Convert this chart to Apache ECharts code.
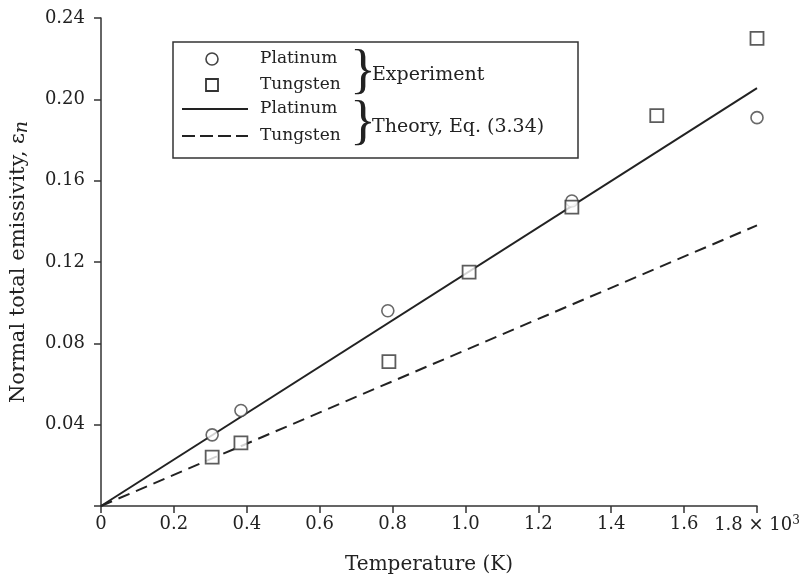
<!DOCTYPE html>
<html>
<head>
<meta charset="utf-8">
<script src="https://cdn.jsdelivr.net/npm/echarts@6/dist/echarts.min.js"></script>
<style>
  html, body { margin: 0; padding: 0; background: #fff; }
  #chart { width: 801px; height: 581px; }
</style>
</head>
<body>
<div id="chart"></div>
<script>
// temperature in 10^3 K, emissivity
const platinumExp = [[0.305, 0.035], [0.384, 0.047], [0.787, 0.096], [1.292, 0.150], [1.8, 0.191]]
const tungstenExp = [[0.305, 0.024], [0.384, 0.031], [0.79, 0.071], [1.01, 0.115], [1.292, 0.147], [1.525, 0.192], [1.8, 0.230]]
const platinumTheory = [[0, 0], [1.8, 0.2055]]
const tungstenTheory = [[0, 0], [1.8, 0.138]]
const xTicks = { min: 0, max: 1.8, step: 0.2 }
const yTicks = { min: 0, max: 0.24, step: 0.04 }

const serif = "DejaVu Serif"
const brace = "Liberation Serif"
const ink = "#222"

const chart = echarts.init(document.getElementById("chart"))

const option = {
  animation: false,
  backgroundColor: "#fff",
  grid: { left: 101, right: 44, top: 18, bottom: 75, containLabel: false, outerBoundsMode: "none" },
  xAxis: {
    type: "value",
    min: xTicks.min, max: xTicks.max, interval: xTicks.step,
    name: "Temperature (K)",
    nameLocation: "middle",
    nameGap: 49,
    nameTextStyle: { fontFamily: serif, fontSize: 20, color: ink },
    axisLine: { lineStyle: { color: "#333", width: 1.5 } },
    axisTick: { length: 7, lineStyle: { color: "#333", width: 1.5 } },
    splitLine: { show: false },
    axisLabel: {
      margin: 9,
      fontFamily: serif, fontSize: 18, color: ink,
      formatter: (v) => {
        if (v === 0) return "0"
        if (Math.abs(v - 1.8) < 1e-9) return "1.8 × 10{sup|3}"
        return v.toFixed(1)
      },
      rich: {
        sup: { fontFamily: serif, fontSize: 12, color: ink, verticalAlign: "top", padding: [0, 0, 8, 0] }
      }
    }
  },
  yAxis: {
    type: "value",
    min: yTicks.min, max: yTicks.max, interval: yTicks.step,
    name: "Normal total emissivity, ε{i|n}",
    nameLocation: "middle",
    nameGap: 69,
    nameTextStyle: {
      fontFamily: serif, fontSize: 21, color: ink,
      rich: { i: { fontFamily: serif, fontSize: 19, fontStyle: "italic", color: ink, padding: [8, 0, 0, 0] } }
    },
    axisLine: { show: true, lineStyle: { color: "#333", width: 1.5 } },
    axisTick: { show: true, length: 7, lineStyle: { color: "#333", width: 1.5 } },
    splitLine: { show: false },
    axisLabel: {
      margin: 16,
      fontFamily: serif, fontSize: 18, color: ink,
      formatter: (v) => v === 0 ? "" : v.toFixed(2)
    }
  },
  series: [
    {
      name: "Platinum theory", type: "line", data: platinumTheory,
      symbol: "none", lineStyle: { color: ink, width: 2 }, z: 2
    },
    {
      name: "Tungsten theory", type: "line", data: tungstenTheory,
      symbol: "none", lineStyle: { color: ink, width: 2, type: [12, 7] }, z: 2
    },
    {
      name: "Platinum", type: "scatter", data: platinumExp,
      symbol: "circle", symbolSize: 12,
      itemStyle: { color: "#fff", borderColor: "#444", borderWidth: 1.6 }, z: 3
    },
    {
      name: "Tungsten", type: "scatter", data: tungstenExp,
      symbol: "rect", symbolSize: 13,
      itemStyle: { color: "#fff", borderColor: "#333", borderWidth: 1.8 }, z: 3
    }
  ],
  graphic: [
    {
      type: "rect", shape: { x: 173, y: 42, width: 405, height: 116 },
      style: { fill: "#fff", stroke: "#333", lineWidth: 1.5 }, z: 10
    },
    { type: "circle", shape: { cx: 212, cy: 59, r: 6 }, style: { fill: "#fff", stroke: "#444", lineWidth: 1.6 }, z: 11 },
    { type: "rect", shape: { x: 206, y: 79, width: 12, height: 12 }, style: { fill: "#fff", stroke: "#333", lineWidth: 1.8 }, z: 11 },
    { type: "line", shape: { x1: 182, y1: 109, x2: 248, y2: 109 }, style: { stroke: ink, lineWidth: 2 }, z: 11 },
    { type: "line", shape: { x1: 182, y1: 136, x2: 248, y2: 136 }, style: { stroke: ink, lineWidth: 2, lineDash: [13, 5] }, z: 11 },
    { type: "text", x: 260, y: 59, style: { text: "Platinum", font: "17px " + serif, fill: ink, verticalAlign: "middle" }, z: 11 },
    { type: "text", x: 260, y: 85, style: { text: "Tungsten", font: "17px " + serif, fill: ink, verticalAlign: "middle" }, z: 11 },
    { type: "text", x: 260, y: 109, style: { text: "Platinum", font: "17px " + serif, fill: ink, verticalAlign: "middle" }, z: 11 },
    { type: "text", x: 260, y: 136, style: { text: "Tungsten", font: "17px " + serif, fill: ink, verticalAlign: "middle" }, z: 11 },
    { type: "text", x: 350, y: 73, style: { text: "}", font: "54px " + brace, fill: ink, verticalAlign: "middle" }, z: 11 },
    { type: "text", x: 350, y: 124, style: { text: "}", font: "54px " + brace, fill: ink, verticalAlign: "middle" }, z: 11 },
    { type: "text", x: 372, y: 75, style: { text: "Experiment", font: "19px " + serif, fill: ink, verticalAlign: "middle" }, z: 11 },
    { type: "text", x: 372, y: 127, style: { text: "Theory, Eq. (3.34)", font: "19px " + serif, fill: ink, verticalAlign: "middle" }, z: 11 }
  ]
}

chart.setOption(option)
</script>
</body>
</html>
